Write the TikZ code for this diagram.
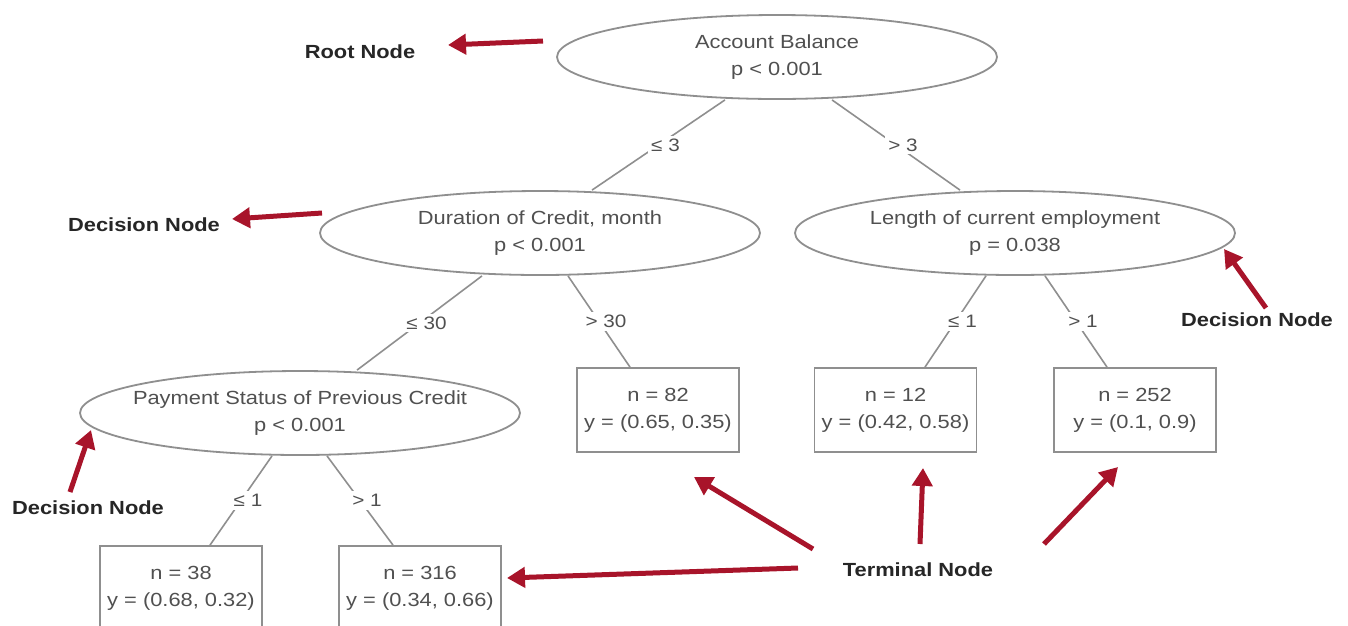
\documentclass[tikz,border=0pt]{standalone}
\usepackage{fontspec}
\setmainfont{Liberation Sans}
\newfontfamily\treefont[FakeStretch=1.15]{Liberation Sans}
\usetikzlibrary{shapes.geometric,arrows.meta}
\definecolor{edgegray}{HTML}{8F8F8F}
\definecolor{txtgray}{HTML}{505050}
\definecolor{arrred}{HTML}{A8142A}
\begin{document}
\begin{tikzpicture}[x=1pt,y=-1pt,
  split/.style={ellipse, draw=edgegray, line width=1.8pt, minimum width=440pt, minimum height=84pt, inner sep=0pt},
  splittext/.style={align=center, inner sep=0pt, font=\treefont\fontsize{19}{27}\selectfont, text=txtgray},
  leaf/.style={rectangle, draw=edgegray, line width=1.8pt, minimum width=162pt, minimum height=84pt, inner sep=0pt, align=center, font=\treefont\fontsize{19}{27}\selectfont, text=txtgray},
  treeedge/.style={draw=edgegray, line width=1.6pt},
  elabel/.style={fill=white, inner sep=3pt, font=\treefont\fontsize{18}{20}\selectfont, text=txtgray, xshift=7pt},
  annot/.style={font=\treefont\bfseries\fontsize{19}{22}\selectfont, text=black!85},
  redarrow/.style={draw=arrred, line width=5pt, -{Triangle[length=18pt,width=20pt]}}
]
\useasboundingbox (0,0) rectangle (1348,625);
\clip (0,0) rectangle (1348,625);
\fill[white] (0,0) rectangle (1348,625);

% split nodes
\node[split] (root) at (777,57) {};
\node[splittext] (rootT) at (root) {Account Balance\\p < 0.001};
\node[split] (dur) at (540,233) {};
\node[splittext] (durT) at (dur) {Duration of Credit, month\\p < 0.001};
\node[split] (len) at (1015,233) {};
\node[splittext] (lenT) at (len) {Length of current employment\\p = 0.038};
\node[split] (pay) at (300,413) {};
\node[splittext] (payT) at (pay) {Payment Status of Previous Credit\\p < 0.001};

% leaves
\node[leaf] (n82) at (658,410) {n = 82\\y = (0.65, 0.35)};
\node[leaf] (n12) at (895.5,410) {n = 12\\y = (0.42, 0.58)};
\node[leaf] (n252) at (1135,410) {n = 252\\y = (0.1, 0.9)};
\node[leaf] (n38) at (181,588) {n = 38\\y = (0.68, 0.32)};
\node[leaf] (n316) at (420,588) {n = 316\\y = (0.34, 0.66)};

% tree edges
\draw[treeedge] ([xshift=-52pt]root.south) -- node[elabel] {≤ 3} ([xshift=52pt]dur.north);
\draw[treeedge] ([xshift=55pt]root.south) -- node[elabel] {> 3} ([xshift=-55pt]len.north);
\draw[treeedge] ([xshift=-58pt]dur.south) -- node[elabel] {≤ 30} ([xshift=57pt]pay.north);
\draw[treeedge] ([xshift=28pt]dur.south) -- node[elabel] {> 30} ([xshift=-28pt]n82.north);
\draw[treeedge] ([xshift=-29pt]len.south) -- node[elabel] {≤ 1} ([xshift=29.5pt]n12.north);
\draw[treeedge] ([xshift=30pt]len.south) -- node[elabel] {> 1} ([xshift=-28pt]n252.north);
\draw[treeedge] ([xshift=-28pt]pay.south) -- node[elabel] {≤ 1} ([xshift=29pt]n38.north);
\draw[treeedge] ([xshift=27pt]pay.south) -- node[elabel] {> 1} ([xshift=-27pt]n316.north);

% annotations
\node[annot] (rootA) at (360,52) {Root Node};
\node[annot] (decA1) at (144,225) {Decision Node};
\node[annot] (decA2) at (1257,320) {Decision Node};
\node[annot] (decA3) at (88,508) {Decision Node};
\node[annot] (termA) at (918,570) {Terminal Node};

\coordinate (rootS) at (543,41);  \coordinate (rootE) at (448,45);
\coordinate (dec1S) at (322,213); \coordinate (dec1E) at (232,219);
\coordinate (dec2S) at (1266,308); \coordinate (dec2E) at (1224,249);
\coordinate (dec3S) at (70,492);  \coordinate (dec3E) at (91,430);
\coordinate (t1S) at (798,568);   \coordinate (t1E) at (507,578);
\coordinate (t2S) at (813,549);   \coordinate (t2E) at (694,477);
\coordinate (t3S) at (920,544);   \coordinate (t3E) at (923,468);
\coordinate (t4S) at (1044,544);  \coordinate (t4E) at (1118,467);

\draw[redarrow] (rootS) -- (rootE);
\draw[redarrow] (dec1S) -- (dec1E);
\draw[redarrow] (dec2S) -- (dec2E);
\draw[redarrow] (dec3S) -- (dec3E);
\draw[redarrow] (t1S) -- (t1E);
\draw[redarrow] (t2S) -- (t2E);
\draw[redarrow] (t3S) -- (t3E);
\draw[redarrow] (t4S) -- (t4E);
\end{tikzpicture}
\end{document}
